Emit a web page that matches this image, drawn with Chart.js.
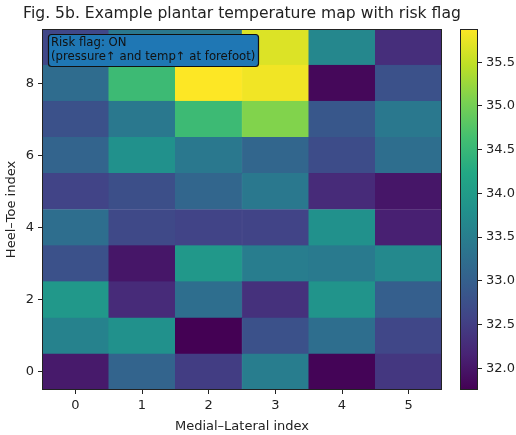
<!DOCTYPE html>
<html>
<head>
<meta charset="utf-8">
<script src="https://cdn.jsdelivr.net/npm/chart.js@4"></script>
<style>
  body { margin: 0; background: #fff; }
  .layer { position: absolute; left: 0; top: 0; width: 516px; height: 435px; }
</style>
</head>
<body>
<div class="layer"><canvas id="heat" width="516" height="435"></canvas></div>
<div class="layer"><canvas id="cbar" width="516" height="435"></canvas></div>
<script>
// columns (medial-lateral) and rows (heel-toe, row 0 at the bottom)
const mlLabels = ["0", "1", "2", "3", "4", "5"];
const htTicks = [0, 2, 4, 6, 8];
const cbTicks = [32.0, 32.5, 33.0, 33.5, 34.0, 34.5, 35.0, 35.5];
const temps = [
  [32.04, 33.07, 32.49, 33.48, 31.79, 32.41],
  [33.57, 33.82, 31.75, 32.78, 33.24, 32.62],
  [33.94, 32.25, 33.24, 32.33, 33.86, 32.99],
  [32.78, 32.00, 33.94, 33.48, 33.44, 33.69],
  [33.24, 32.66, 32.58, 32.58, 33.82, 32.12],
  [32.58, 32.74, 33.11, 33.40, 32.25, 32.00],
  [33.07, 33.82, 33.40, 33.11, 32.70, 33.24],
  [32.78, 33.40, 34.56, 35.10, 32.87, 33.40],
  [33.20, 34.56, 35.88, 35.80, 31.83, 32.78],
  [32.62, 33.40, 33.40, 35.67, 33.65, 32.29]
];
const titleText = "Fig. 5b. Example plantar temperature map with risk flag";
const flagLines = ["Risk flag: ON", "(pressure\u2191 and temp\u2191 at forefoot)"];

const vmin = Math.min(...temps.flat());
const vmax = Math.max(...temps.flat());

// viridis stops
const viridis = ["#440154","#482475","#414487","#355f8d","#2a788e","#21918c","#22a884","#44bf70","#7ad151","#bddf26","#fde725"];
function hex(h) { return [1, 3, 5].map(i => parseInt(h.substr(i, 2), 16)); }
function cmap(v) {
  let t = (v - vmin) / (vmax - vmin);
  t = Math.max(0, Math.min(1, t)) * 10;
  let i = Math.min(9, Math.floor(t));
  let f = t - i;
  let a = hex(viridis[i]), b = hex(viridis[i + 1]);
  let c = a.map((x, k) => Math.round(x + (b[k] - x) * f));
  return "rgb(" + c.join(",") + ")";
}

Chart.defaults.font.family = "'DejaVu Sans', sans-serif";
Chart.defaults.font.size = 13;
Chart.defaults.color = "#222";

const datasets = temps.map((row, r) => ({
  data: row.map(() => [r - 0.5, r + 0.5]),
  backgroundColor: row.map(v => cmap(v)),
  borderColor: row.map(v => cmap(v)),
  borderWidth: 0.5,
  borderSkipped: false,
  categoryPercentage: 1,
  barPercentage: 1,
  grouped: false
}));

const decor = {
  id: "decor",
  afterDraw(chart) {
    const c = chart.ctx, a = chart.chartArea;
    c.save();
    c.strokeStyle = "#222";
    c.lineWidth = 1;
    c.strokeRect(a.left + 0.5, a.top + 0.5, a.right - a.left - 1, a.bottom - a.top - 1);
    // title
    c.fillStyle = "#222";
    c.font = "15.6px 'DejaVu Sans'";
    c.textAlign = "center";
    c.textBaseline = "middle";
    c.fillText(titleText, (a.left + a.right) / 2, 14);
    // risk flag box
    c.beginPath();
    c.roundRect(48.5, 34.5, 210, 32, 3);
    c.fillStyle = "#1f77b4";
    c.fill();
    c.strokeStyle = "#111";
    c.lineWidth = 1.2;
    c.stroke();
    c.fillStyle = "#111";
    c.font = "11.7px 'DejaVu Sans'";
    c.textAlign = "left";
    c.textBaseline = "alphabetic";
    c.fillText(flagLines[0], 51, 46);
    c.fillText(flagLines[1], 51, 60);
    c.restore();
  }
};

new Chart(document.getElementById("heat"), {
  type: "bar",
  data: { labels: mlLabels, datasets: datasets },
  options: {
    responsive: false,
    animation: false,
    layout: { padding: { left: 0, top: 29, right: 74, bottom: 0 } },
    plugins: { legend: { display: false }, tooltip: { enabled: false } },
    scales: {
      x: {
        type: "category",
        offset: true,
        grid: { drawOnChartArea: false, drawTicks: true, tickLength: 4, tickColor: "#222", offset: false },
        border: { display: false },
        ticks: { padding: 4, maxRotation: 0 },
        title: { display: true, text: "Medial\u2013Lateral index", padding: { top: 1, bottom: 1 } },
        afterFit: s => { s.height = 45; }
      },
      y: {
        type: "linear",
        min: -0.5,
        max: 9.5,
        afterBuildTicks: s => { s.ticks = htTicks.map(v => ({ value: v })); },
        grid: { drawOnChartArea: false, drawTicks: true, tickLength: 4, tickColor: "#222" },
        border: { display: false },
        ticks: { padding: 4 },
        title: { display: true, text: "Heel\u2013Toe index", padding: { top: 4, bottom: 2 } },
        afterFit: s => { s.width = 42; }
      }
    }
  },
  plugins: [decor]
});

// colorbar
const cbOutline = {
  id: "cbOutline",
  afterDraw(chart) {
    const c = chart.ctx, a = chart.chartArea;
    c.save();
    c.strokeStyle = "#222";
    c.lineWidth = 1;
    c.strokeRect(a.left + 0.5, a.top + 0.5, a.right - a.left - 1, a.bottom - a.top - 1);
    c.restore();
  }
};

new Chart(document.getElementById("cbar"), {
  type: "bar",
  data: {
    labels: ["cb"],
    datasets: [{
      data: [[vmin, vmax]],
      borderWidth: 0,
      categoryPercentage: 1,
      barPercentage: 1,
      backgroundColor: ctx => {
        const a = ctx.chart.chartArea;
        if (!a) return "#888";
        const g = ctx.chart.ctx.createLinearGradient(0, a.bottom, 0, a.top);
        viridis.forEach((col, i) => g.addColorStop(i / 10, col));
        return g;
      }
    }]
  },
  options: {
    responsive: false,
    animation: false,
    layout: { padding: { left: 460, top: 29, right: 0, bottom: 45 } },
    plugins: { legend: { display: false }, tooltip: { enabled: false } },
    scales: {
      x: { display: false },
      y: {
        position: "right",
        min: vmin,
        max: vmax,
        afterBuildTicks: s => { s.ticks = cbTicks.map(v => ({ value: v })); },
        grid: { drawOnChartArea: false, drawTicks: true, tickLength: 4, tickColor: "#222" },
        border: { display: false },
        ticks: { padding: 4, callback: v => v.toFixed(1) },
        afterFit: s => { s.width = 38; }
      }
    }
  },
  plugins: [cbOutline]
});
</script>
</body>
</html>
